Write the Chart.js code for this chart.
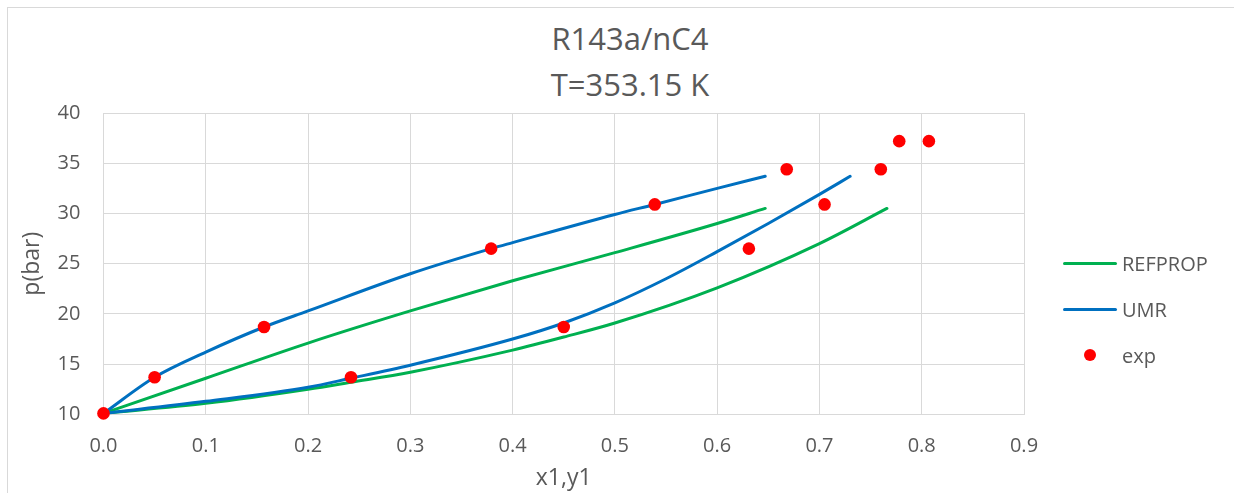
<!DOCTYPE html>
<html>
<head>
<meta charset="utf-8">
<title>R143a/nC4</title>
<script src="https://cdn.jsdelivr.net/npm/chart.js@4.4.1/dist/chart.umd.min.js"></script>
<style>
  body { margin: 0; background: #fff; font-family: "Open Sans", sans-serif; color: #595959; }
  #wrap { position: relative; width: 1234px; height: 493px; overflow: hidden; }
  #frame { position: absolute; left: 7px; top: 7px; width: 1240px; height: 500px;
           border-left: 1px solid #d9d9d9; border-top: 1px solid #d9d9d9; }
  #plot { position: absolute; left: 0; top: 0; width: 1234px; height: 493px; }
  #heading { position: absolute; left: 13px; top: 15px; width: 1234px; text-align: center;
             font-size: 31px; line-height: 46px; }
  .key { position: absolute; left: 1063px; top: 240px; font-size: 20px; }
  .key .row { display: flex; align-items: center; height: 46px; }
  .key .sw { width: 54px; height: 12px; margin-right: 5px; position: relative; }
  .key .sw.line::after { content: ""; position: absolute; left: 0; right: 0; top: 4.5px;
                         height: 3px; border-radius: 2px; background: var(--c); }
  .key .sw.dot::after { content: ""; position: absolute; left: 21px; top: 0; width: 12px;
                        height: 12px; border-radius: 50%; background: var(--c); }
</style>
</head>
<body>
<div id="wrap">
  <div id="frame"></div>
  <div id="heading">R143a/nC4<br>T=353.15 K</div>
  <div id="plot"><canvas id="c"></canvas></div>
  <div class="key" id="key"></div>
</div>
<script>
// REFPROP bubble and dew curves
const refBubX = [0, 0.1, 0.2, 0.3, 0.4, 0.5, 0.6, 0.647];
const refBubP = [10.1, 13.6, 17.1, 20.3, 23.3, 26.1, 29.0, 30.5];
const refDewX = [0, 0.1, 0.2, 0.242, 0.3, 0.4, 0.45, 0.5, 0.6, 0.7, 0.766];
const refDewP = [10.1, 11.1, 12.5, 13.2, 14.2, 16.4, 17.7, 19.1, 22.6, 27.0, 30.5];

// UMR bubble and dew curves
const umrBubX = [0, 0.05, 0.1, 0.157, 0.2, 0.3, 0.379, 0.4, 0.5, 0.539, 0.6, 0.647];
const umrBubP = [10.1, 13.7, 16.2, 18.7, 20.3, 24.0, 26.5, 27.1, 29.9, 30.9, 32.5, 33.7];
const umrDewX = [0, 0.1, 0.2, 0.242, 0.3, 0.4, 0.45, 0.5, 0.55, 0.6, 0.65, 0.7, 0.73];
const umrDewP = [10.1, 11.3, 12.7, 13.6, 14.9, 17.5, 19.1, 21.1, 23.5, 26.2, 29.0, 31.9, 33.7];

// experimental points (liquid and vapour)
const expX = [0, 0.050, 0.157, 0.379, 0.539, 0.668, 0.778, 0.242, 0.450, 0.631, 0.705, 0.760, 0.807];
const expP = [10.1, 13.7, 18.7, 26.5, 30.9, 34.4, 37.2, 13.7, 18.7, 26.5, 30.9, 34.4, 37.2];

const xTicks = [0, 0.1, 0.2, 0.3, 0.4, 0.5, 0.6, 0.7, 0.8, 0.9];
const yTicks = [10, 15, 20, 25, 30, 35, 40];

const GREEN = '#00b050';
const BLUE = '#0070c0';
const RED = '#ff0000';
const TEXT = '#595959';
const GRID = '#d9d9d9';
const FONT = '"Open Sans", sans-serif';

function pairs(xs, ys) {
  return xs.map((x, i) => ({x, y: ys[i]}));
}

function curve(label, xs, ys, colour) {
  return {
    label,
    data: pairs(xs, ys),
    showLine: true,
    borderColor: colour,
    backgroundColor: colour,
    borderWidth: 3,
    borderCapStyle: 'round',
    pointRadius: 0,
    cubicInterpolationMode: 'monotone',
    order: label === 'UMR' ? 2 : 3,
  };
}

const datasets = [
  curve('REFPROP', refBubX, refBubP, GREEN),
  curve('REFPROP', refDewX, refDewP, GREEN),
  curve('UMR', umrBubX, umrBubP, BLUE),
  curve('UMR', umrDewX, umrDewP, BLUE),
  {
    label: 'exp',
    data: pairs(expX, expP),
    showLine: false,
    pointRadius: 6.3,
    pointBackgroundColor: RED,
    pointBorderWidth: 0,
    backgroundColor: RED,
    borderColor: RED,
    clip: false,
    order: 1,
  },
];

// key on the right, one row per series name
const key = document.getElementById('key');
const seen = new Set();
for (const ds of datasets) {
  if (seen.has(ds.label)) continue;
  seen.add(ds.label);
  const row = document.createElement('div');
  row.classList.add('row');
  const sw = document.createElement('span');
  sw.classList.add('sw', ds.showLine ? 'line' : 'dot');
  sw.style.setProperty('--c', ds.borderColor);
  const txt = document.createElement('span');
  txt.textContent = ds.label;
  row.append(sw, txt);
  key.append(row);
}

const options = {
  responsive: true,
  maintainAspectRatio: false,
  animation: false,
  layout: {
    padding: {top: 113, right: 210, bottom: 0, left: 8},
  },
  plugins: {
    legend: {display: false},
    tooltip: {enabled: false},
  },
  scales: {
    x: {
      type: 'linear',
      min: 0,
      max: 0.9,
      afterBuildTicks: (axis) => { axis.ticks = xTicks.map(v => ({value: v})); },
      ticks: {
        color: TEXT,
        font: {family: FONT, size: 20},
        padding: 20,
        callback: (v) => v.toFixed(1),
      },
      grid: {color: GRID, lineWidth: 1, drawTicks: false},
      border: {color: GRID},
      title: {
        display: true,
        text: 'x1,y1',
        color: TEXT,
        font: {family: FONT, size: 23},
        padding: {top: -14, bottom: 1},
      },
    },
    y: {
      type: 'linear',
      min: 10,
      max: 40,
      afterBuildTicks: (axis) => { axis.ticks = yTicks.map(v => ({value: v})); },
      ticks: {
        color: TEXT,
        font: {family: FONT, size: 20},
        padding: 23,
      },
      grid: {color: GRID, lineWidth: 1, drawTicks: false},
      border: {color: GRID},
      title: {
        display: true,
        text: 'p(bar)',
        color: TEXT,
        font: {family: FONT, size: 23},
        padding: {top: 11, bottom: -12},
      },
    },
  },
};

new Chart(document.getElementById('c'), {
  type: 'scatter',
  data: {datasets},
  options,
});
</script>
</body>
</html>
